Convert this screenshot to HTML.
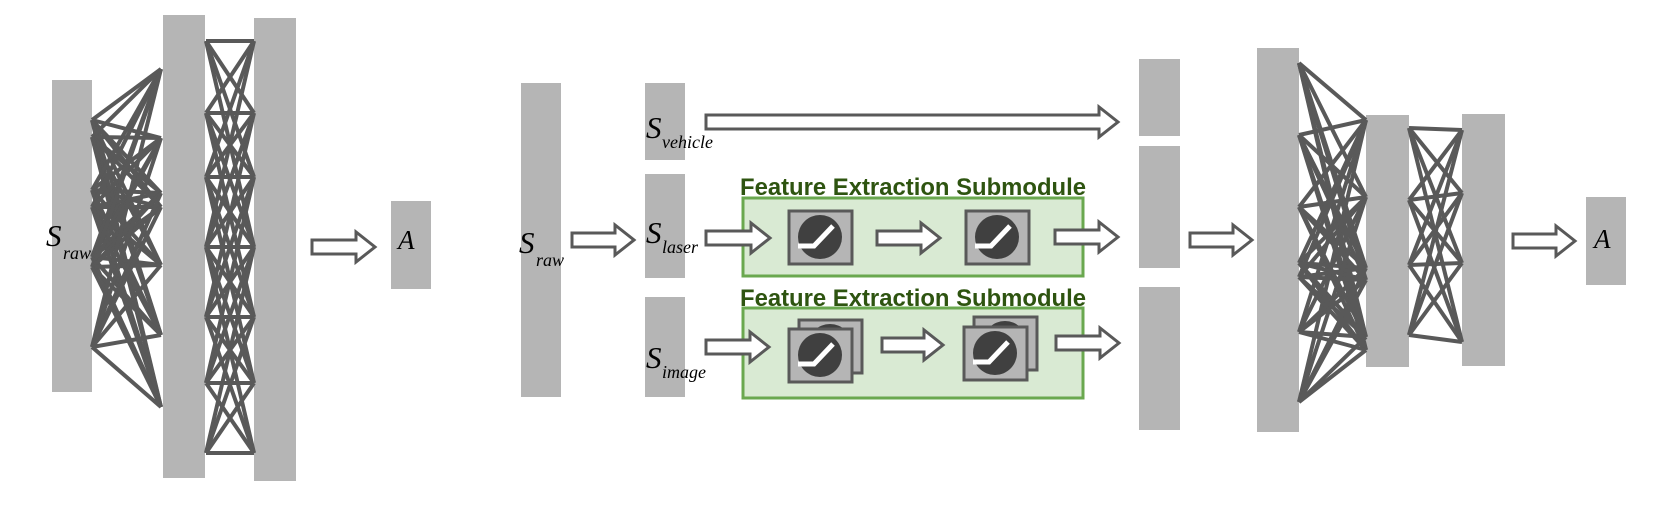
<!DOCTYPE html>
<html><head><meta charset="utf-8"><style>
html,body{margin:0;padding:0;background:#fff;}
svg{display:block;}
.it{font-family:"Liberation Serif",serif;font-style:italic;fill:#000;}
.tt{font-family:"Liberation Sans",sans-serif;font-weight:bold;fill:#2e5410;}
</style></head><body>
<svg id="s" width="1665" height="512" viewBox="0 0 1665 512" xmlns="http://www.w3.org/2000/svg">
<g fill="#b5b5b5">
<rect x="52" y="80" width="40" height="312"/>
<rect x="163" y="15" width="42" height="463"/>
<rect x="254" y="18" width="42" height="463"/>
<rect x="391" y="201" width="40" height="88"/>
<rect x="521" y="83" width="40" height="314"/>
<rect x="645" y="83" width="40" height="77"/>
<rect x="645" y="174" width="40" height="104"/>
<rect x="645" y="297" width="40" height="100"/>
<rect x="1139" y="59" width="41" height="77"/>
<rect x="1139" y="146" width="41" height="122"/>
<rect x="1139" y="287" width="41" height="143"/>
<rect x="1257" y="48" width="42" height="384"/>
<rect x="1366" y="115" width="43" height="252"/>
<rect x="1462" y="114" width="43" height="252"/>
<rect x="1586" y="197" width="40" height="88"/>
</g>
<g id="lines" stroke="#595959" stroke-width="4" fill="none"></g>
<g fill="#d9ead3" stroke="#6aa84f" stroke-width="3">
<rect x="743" y="198" width="340" height="78"/>
<rect x="743" y="308" width="340" height="90"/>
</g>
<text class="tt" x="740" y="195" font-size="24" textLength="346" lengthAdjust="spacingAndGlyphs">Feature Extraction Submodule</text>
<text class="tt" x="740" y="306" font-size="24" textLength="346" lengthAdjust="spacingAndGlyphs">Feature Extraction Submodule</text>
<g id="icons"></g>
<g id="arrows" fill="#fff" stroke="#595959" stroke-width="3"></g>
<text class="it" x="46" y="246" font-size="31">S</text><text class="it" x="63" y="259" font-size="18">raw</text>
<text class="it" x="398" y="249" font-size="27">A</text>
<text class="it" x="519" y="253" font-size="31">S</text><text class="it" x="536" y="266" font-size="18">raw</text>
<text class="it" x="646" y="138" font-size="31">S</text><text class="it" x="662" y="148" font-size="18">vehicle</text>
<text class="it" x="646" y="243" font-size="31">S</text><text class="it" x="662" y="253" font-size="18">laser</text>
<text class="it" x="646" y="368" font-size="31">S</text><text class="it" x="662" y="378" font-size="18">image</text>
<text class="it" x="1594" y="248" font-size="27">A</text>
</svg>
<script>
var NS="http://www.w3.org/2000/svg";
function el(p,t,a){var e=document.createElementNS(NS,t);for(var k in a)e.setAttribute(k,a[k]);document.getElementById(p).appendChild(e);return e;}
function L(x1,y1,x2,y2){el("lines","line",{x1:x1,y1:y1,x2:x2,y2:y2});}
function full(x1,ys1,x2,ys2){ys1.forEach(function(a){ys2.forEach(function(b){L(x1,a,x2,b);});});}
full(92,[120,137,190,207,257,267,347],161,[69,138,193,207,265,335,407]);
var m=[41,113,177,247,317,383,453];
for(var i=0;i<7;i++)for(var j=0;j<7;j++)if(Math.abs(i-j)<=3)L(206,m[i],254,m[j]);
full(1299,[63,135,207,263,277,332,402],1366,[120,197,268,280,337,350]);
full(1409,[128,200,265,335],1462,[130,193,263,342]);
function A(x1,x2,cy){var b=7,h=15,hl=19,xh=x2-hl;
el("arrows","polygon",{points:[x1,cy-b,xh,cy-b,xh,cy-h,x2,cy,xh,cy+h,xh,cy+b,x1,cy+b].join(" ")});}
A(312,375,247);A(572,634,240);A(706,1118,122);A(706,770,238);A(706,769,347);
A(877,940,238);A(882,943,345);A(1055,1118,237);A(1056,1119,343);A(1190,1252,240);A(1513,1575,241);
function icon(x,y){el("icons","rect",{x:x,y:y,width:63,height:53,fill:"#b5b5b5",stroke:"#595959","stroke-width":3});
el("icons","circle",{cx:x+31,cy:y+26,r:22,fill:"#404040"});
el("icons","polyline",{points:[x+9,y+35,x+25,y+35,x+44,y+15].join(" "),fill:"none",stroke:"#fff","stroke-width":5});}
icon(789,211);icon(966,211);
icon(799,320);icon(789,329);icon(974,317);icon(964,327);
</script>
</body></html>
